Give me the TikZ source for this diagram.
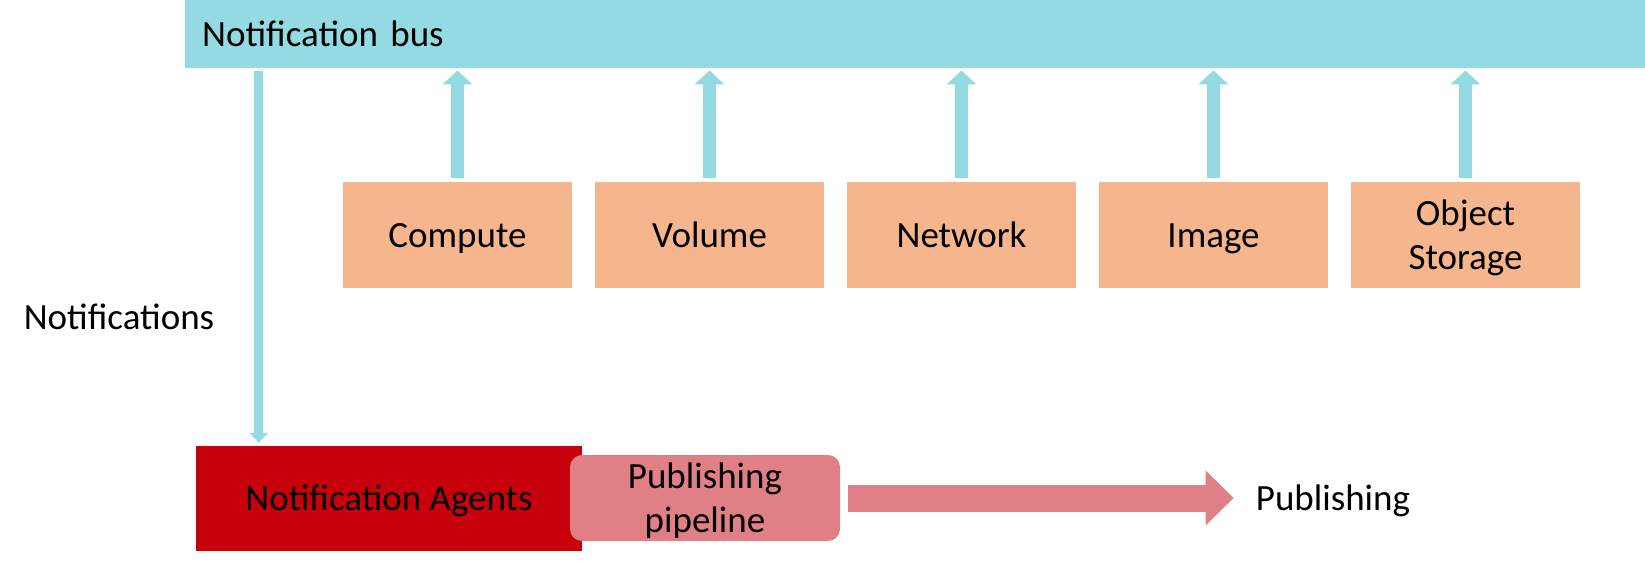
\documentclass[tikz,border=0pt]{standalone}
\usepackage{fontspec}
\setmainfont{Carlito}
\usetikzlibrary{arrows.meta, positioning}
\definecolor{busblue}{RGB}{147,218,226}
\definecolor{svcorange}{RGB}{245,182,141}
\definecolor{agentred}{RGB}{199,0,11}
\definecolor{pipepink}{RGB}{225,127,135}

\begin{document}
\begin{tikzpicture}[
    x=1pt, y=-1pt,
    node distance=252pt,
    every node/.style={font=\fontsize{37}{44}\selectfont, text height=32pt, text depth=8pt},
    twoline/.style={align=center, text height=76pt, text depth=8pt},
    svc/.style={rectangle, fill=svcorange, minimum width=229pt, minimum height=106pt, inner sep=0pt},
    uparrow/.style={-{Triangle[width=29pt, length=14pt]}, line width=13pt, busblue},
    downarrow/.style={-{Triangle[width=18pt, length=10pt]}, line width=9pt, busblue},
    pubarrow/.style={-{Triangle[width=53pt, length=28pt]}, line width=27pt, pipepink}
]
\useasboundingbox (0,0) rectangle (1645,567);

\node[rectangle, fill=busblue, anchor=north west, text width=1426pt, inner xsep=17pt, inner ysep=0pt, minimum height=68pt, align=left] (bus) at (185,0) {Notification bus};

\node[svc] (compute) at (457.5,235) {Compute};
\node[svc, right of=compute] (volume) {Volume};
\node[svc, right of=volume] (network) {Network};
\node[svc, right of=network] (image) {Image};
\node[svc, twoline, right of=image] (objstore) {Object\\Storage};

\node (notif) at (119,317) {Notifications};

\node[rectangle, fill=agentred, minimum width=386pt, minimum height=105pt, inner sep=0pt] (agents) at (389,498.5) {Notification Agents};
\node[rectangle, fill=pipepink, rounded corners=12pt, minimum width=270pt, minimum height=86pt, inner sep=0pt, twoline] (pipeline) at (705,498) {Publishing\\pipeline};
\node[inner sep=0pt] (publish) at (1333,498) {Publishing};

\foreach \svc in {compute, volume, network, image, objstore}
    \draw[uparrow] ([yshift=4pt]\svc.north) -- ([yshift=-2pt]bus.south -| \svc.north);

\draw[downarrow] ([xshift=63pt, yshift=-3pt]agents.north west |- bus.south) -- ([xshift=63pt, yshift=3pt]agents.north west);
\draw[pubarrow] ([xshift=8pt]pipeline.east) -- ([xshift=-22pt]publish.west);
\end{tikzpicture}
\end{document}
